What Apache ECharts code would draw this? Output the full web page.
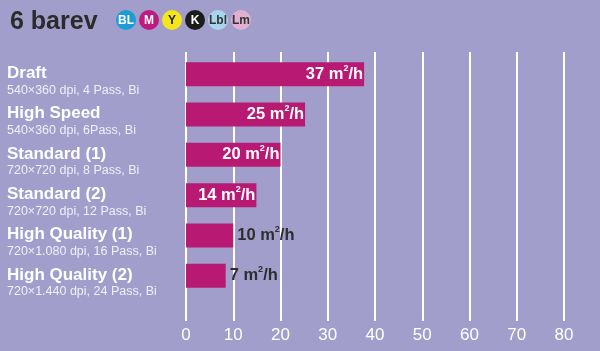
<!DOCTYPE html>
<html>
<head>
<meta charset="utf-8">
<script src="https://cdn.jsdelivr.net/npm/echarts@6/dist/echarts.min.js"></script>
<style>
  html, body { margin: 0; padding: 0; background: #a19ecb; }
  #chart { width: 600px; height: 351px; }
</style>
</head>
<body>
<div id="chart"></div>
<script>
// print modes, top to bottom
const modeNames = ['Draft', 'High Speed', 'Standard (1)', 'Standard (2)', 'High Quality (1)', 'High Quality (2)'];
const modeSpecs = [
    '540×360 dpi, 4 Pass, Bi',
    '540×360 dpi, 6Pass, Bi',
    '720×720 dpi, 8 Pass, Bi',
    '720×720 dpi, 12 Pass, Bi',
    '720×1.080 dpi, 16 Pass, Bi',
    '720×1.440 dpi, 24 Pass, Bi'
];
// bar lengths as drawn, and the printed speeds
const barValues = [37.7, 25.2, 20, 14.9, 10, 8.4];
const speedLabels = [37, 25, 20, 14, 10, 7];
const xTicks = [0, 80, 10]; // min, max, step

// ink badges in the header
const inkNames = ['BL', 'M', 'Y', 'K', 'Lbl', 'Lm'];
const inkColors = ['#1b9bd7', '#be1a80', '#f4e51c', '#1c1c1c', '#a8d5ee', '#dfb0d2'];
const inkText = ['#ffffff', '#ffffff', '#222222', '#ffffff', '#333333', '#333333'];

const FONT = 'Liberation Sans';

const chart = echarts.init(document.getElementById('chart'));

const badges = inkNames.map((name, i) => ({
    type: 'group',
    x: 126 + i * 23,
    y: 20,
    children: [
        { type: 'circle', shape: { cx: 0, cy: 0, r: 10 }, style: { fill: inkColors[i] } },
        {
            type: 'text',
            style: {
                text: name, x: 0, y: 1, align: 'center', verticalAlign: 'middle',
                fill: inkText[i], font: 'bold 12px "Liberation Sans"'
            }
        }
    ]
}));

const unitRich = (color) => ({
    n: { fontSize: 16.5, fontWeight: 'bold', color: color, fontFamily: FONT },
    u: { fontSize: 16.5, fontWeight: 'bold', color: color, fontFamily: FONT },
    s: { fontSize: 9, fontWeight: 'bold', color: color, fontFamily: FONT, padding: [0, 0, 12, 0] }
});

const barData = barValues.map((v, i) => {
    const outside = v < 12;
    return {
        value: v,
        label: {
            show: true,
            position: outside ? 'right' : 'insideRight',
            distance: outside ? 4 : 1,
            formatter: '{n|' + speedLabels[i] + ' m}{s|2}{u|/h}',
            rich: unitRich(outside ? '#2e2e2e' : '#ffffff')
        }
    };
});

chart.setOption({
    backgroundColor: '#a19ecb',
    animation: false,
    textStyle: { fontFamily: FONT },
    title: {
        text: '6 barev',
        left: 5,
        top: 5,
        textStyle: { fontSize: 25, fontWeight: 'bold', color: '#2b2b2b', fontFamily: FONT }
    },
    graphic: badges,
    grid: [
        { left: 186, right: 36, top: 52, bottom: 30 },
        { left: 186, right: 36, top: 54, height: 242 }
    ],
    xAxis: [
        {
            gridIndex: 0, type: 'value', min: xTicks[0], max: xTicks[1], interval: xTicks[2],
            axisLine: { show: false }, axisTick: { show: false },
            splitLine: { show: true, lineStyle: { color: '#ffffff', width: 2 } },
            axisLabel: { color: '#ffffff', fontSize: 17, fontFamily: FONT, margin: 6 }
        },
        {
            gridIndex: 1, type: 'value', min: xTicks[0], max: xTicks[1], show: false,
            splitLine: { show: false }
        }
    ],
    yAxis: [
        { gridIndex: 0, type: 'category', data: [], show: false },
        {
            gridIndex: 1, type: 'category', inverse: true, data: modeNames,
            axisLine: { show: false }, axisTick: { show: false },
            axisLabel: {
                align: 'left',
                margin: 179,
                padding: [14, 0, 0, 0],
                formatter: (val, idx) => '{a|' + val + '}\n{b|' + modeSpecs[idx] + '}',
                rich: {
                    a: { fontSize: 17, fontWeight: 'bold', color: '#ffffff', fontFamily: FONT, lineHeight: 18 },
                    b: { fontSize: 12.5, color: '#f0eff8', fontFamily: FONT, lineHeight: 16 }
                }
            }
        }
    ],
    series: [{
        type: 'bar',
        xAxisIndex: 1,
        yAxisIndex: 1,
        barWidth: 24,
        itemStyle: { color: '#b81a73' },
        data: barData
    }]
});
</script>
</body>
</html>
